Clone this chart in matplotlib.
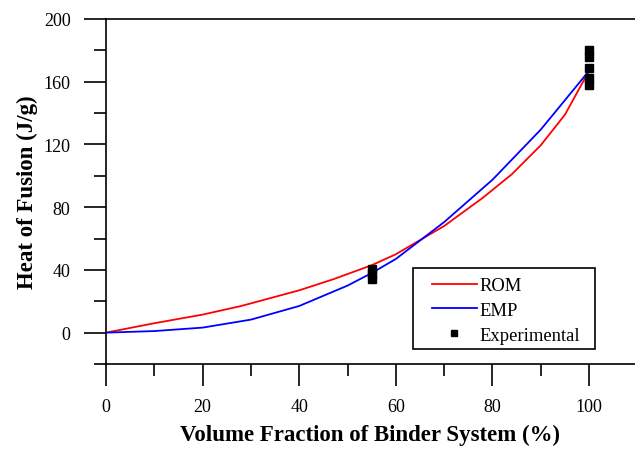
import matplotlib
matplotlib.use("Agg")
import matplotlib.pyplot as plt
from matplotlib.ticker import MultipleLocator
from matplotlib.patches import Rectangle

plt.rcParams['font.family'] = ['Liberation Serif', 'DejaVu Serif']

rom_x = [0, 10, 20, 28, 40, 47, 55, 60, 70, 78, 84, 90, 95, 100]
rom_y = [0, 6, 11.5, 17, 27, 34, 43, 50, 68, 86, 101, 119.5, 139, 167]
emp_x = [0, 10, 20, 30, 40, 50, 55, 60, 70, 80, 90, 100]
emp_y = [0, 1, 3.2, 8.3, 17, 30, 38, 47, 70.5, 97.5, 129.5, 167]
exp_x = [55, 55, 55, 100, 100, 100, 100, 100]
exp_y = [34, 37.5, 40.5, 158, 162.5, 169, 176, 180.5]

fig = plt.figure(figsize=(6.35, 4.52), dpi=100)
ax = fig.add_axes([106/635, 1-365/452, 1-106/635, (365-20)/452])

ax.plot(rom_x, rom_y, color='#ff0000', lw=1.3, label='ROM', zorder=3)
ax.plot(emp_x, emp_y, color='#0000ff', lw=1.3, label='EMP', zorder=3)
ax.plot(exp_x, exp_y, ls='none', marker='s', ms=5.5, color='black', label='Experimental', zorder=4)

ax.set_xlim(0, 109.5)
ax.set_ylim(-20, 200)
ax.xaxis.set_minor_locator(MultipleLocator(10))
ax.yaxis.set_minor_locator(MultipleLocator(20))
ax.set_xticks([0, 20, 40, 60, 80, 100])
ax.set_yticks([0, 40, 80, 120, 160, 200])

ax.spines['right'].set_visible(False)
for s in ['left', 'bottom', 'top']:
    ax.spines[s].set_linewidth(1.2)

ax.tick_params(which='major', direction='out', length=15.5, width=1.2, labelsize=13)
ax.tick_params(which='minor', direction='out', length=8.5, width=1.2)
ax.tick_params(axis='x', which='major', pad=9)
ax.tick_params(axis='y', which='major', pad=10)

ax.set_xlabel('Volume Fraction of Binder System (%)', fontsize=16.5, fontweight='bold', labelpad=6)
ax.set_ylabel('Heat of Fusion (J/g)', fontsize=16.5, fontweight='bold', labelpad=4)

# legend frame
ax.add_patch(Rectangle(((413-106)/529, (365-350)/345), (595-413)/529, (350-269)/345,
                       transform=ax.transAxes, facecolor='white', edgecolor='black',
                       lw=1.2, zorder=5, clip_on=False))
leg = ax.legend(loc='upper left', bbox_to_anchor=((432-106)/529, (365-278)/345),
                fontsize=13.4, frameon=False, handlelength=2.4,
                handletextpad=0.15, borderaxespad=0, borderpad=0, labelspacing=0.42,
                markerscale=0.9)
leg.set_zorder(6)

fig.savefig('out.png', dpi=100)
